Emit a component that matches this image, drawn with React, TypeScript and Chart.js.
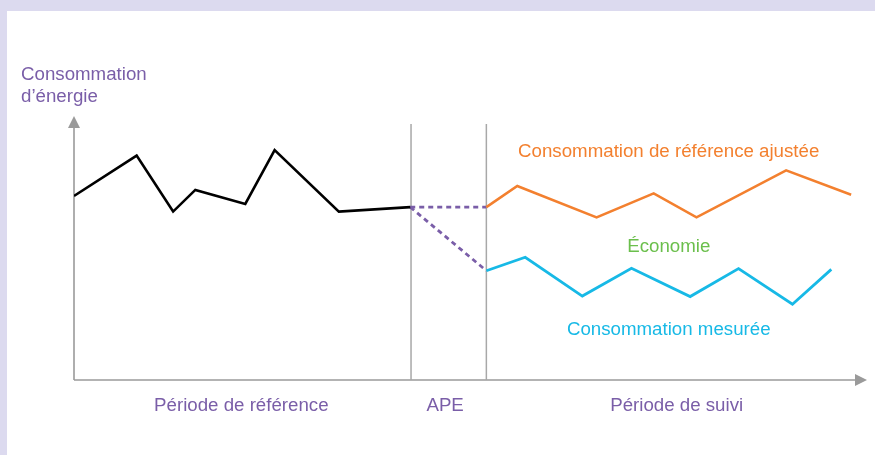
import React, { useEffect, useRef } from "react";
import { Chart, registerables } from "chart.js";

Chart.register(...registerables);

// Data (arbitrary units: time 0–100, energy 0–100)
const baselineX = [0, 7.9, 12.5, 15.3, 21.6, 25.3, 33.4, 42.4];
const baselineY = [69.7, 85.0, 63.8, 72.0, 66.7, 87.1, 63.8, 65.5];
const adjustedX = [52, 55.9, 65.9, 73.1, 78.5, 89.8, 98.0];
const adjustedY = [65.5, 73.5, 61.6, 70.7, 61.6, 79.4, 70.2];
const measuredX = [52, 56.9, 64.1, 70.3, 77.7, 83.8, 90.6, 95.5];
const measuredY = [41.4, 46.5, 31.8, 42.3, 31.6, 42.2, 28.7, 41.9];
const dividerX = [42.5, 52.0];
const dividerTop = 97;
const periodLabels = ["Période de référence", "APE", "Période de suivi"];
const periodCenters = [21.1, 46.8, 76.0];
const yTitle = ["Consommation", "d’énergie"];
const adjustedLabel = "Consommation de référence ajustée";
const savingsLabel = "Économie";
const measuredLabel = "Consommation mesurée";

const PURPLE = "#7a5ea8";
const ORANGE = "#f3802f";
const GREEN = "#6bbf4c";
const CYAN = "#17b9e6";
const GRAY = "#9a9a9a";
const FONT = '18.7px "Liberation Sans", Arial, Helvetica, sans-serif';

const pts = (xs: number[], ys: number[]) => xs.map((x, i) => ({ x, y: ys[i] }));

const decorPlugin = {
  id: "decor",
  beforeDatasetsDraw(chart: any) {
    const { ctx, chartArea } = chart;
    const { left, right, top, bottom } = chartArea;
    ctx.save();
    ctx.strokeStyle = GRAY;
    ctx.fillStyle = GRAY;
    ctx.lineWidth = 1.6;
    // y axis
    ctx.beginPath();
    ctx.moveTo(left, bottom);
    ctx.lineTo(left, top + 10);
    ctx.stroke();
    ctx.beginPath();
    ctx.moveTo(left, top);
    ctx.lineTo(left - 6, top + 12);
    ctx.lineTo(left + 6, top + 12);
    ctx.closePath();
    ctx.fill();
    // x axis
    ctx.beginPath();
    ctx.moveTo(left, bottom);
    ctx.lineTo(right - 10, bottom);
    ctx.stroke();
    ctx.beginPath();
    ctx.moveTo(right, bottom);
    ctx.lineTo(right - 12, bottom - 6);
    ctx.lineTo(right - 12, bottom + 6);
    ctx.closePath();
    ctx.fill();
    ctx.restore();
  },
  afterDraw(chart: any) {
    const { ctx, chartArea, scales } = chart;
    const xs = scales.x;
    const ys = scales.y;
    ctx.save();
    ctx.font = FONT;
    ctx.textBaseline = "alphabetic";
    // y title
    ctx.fillStyle = PURPLE;
    ctx.textAlign = "left";
    ctx.fillText(yTitle[0], 21, 80);
    ctx.fillText(yTitle[1], 21, 102);
    // period labels
    ctx.textAlign = "center";
    periodLabels.forEach((t, i) => {
      ctx.fillText(t, xs.getPixelForValue(periodCenters[i]), chartArea.bottom + 31);
    });
    // series labels
    ctx.fillStyle = ORANGE;
    ctx.textAlign = "left";
    ctx.fillText(adjustedLabel, xs.getPixelForValue(56.0), ys.getPixelForValue(84.5));
    ctx.textAlign = "center";
    ctx.fillStyle = GREEN;
    ctx.fillText(savingsLabel, xs.getPixelForValue(75.0), ys.getPixelForValue(48.5));
    ctx.fillStyle = CYAN;
    ctx.fillText(measuredLabel, xs.getPixelForValue(75.0), ys.getPixelForValue(17.0));
    ctx.restore();
  },
};

export default function App() {
  const ref = useRef<HTMLCanvasElement | null>(null);
  useEffect(() => {
    if (!ref.current) return;
    const last = baselineX.length - 1;
    const lineBase = {
      pointRadius: 0,
      pointHoverRadius: 0,
      fill: false,
      tension: 0,
      borderJoinStyle: "miter" as const,
    };
    const chart = new Chart(ref.current, {
      type: "line",
      data: {
        datasets: [
          {
            ...lineBase,
            label: "Référence",
            data: pts(baselineX, baselineY),
            borderColor: "#000000",
            borderWidth: 2.6,
          },
          {
            ...lineBase,
            label: adjustedLabel,
            data: pts(adjustedX, adjustedY),
            borderColor: ORANGE,
            borderWidth: 2.6,
          },
          {
            ...lineBase,
            label: measuredLabel,
            data: pts(measuredX, measuredY),
            borderColor: CYAN,
            borderWidth: 2.8,
          },
          {
            ...lineBase,
            label: "proj1",
            data: [
              { x: baselineX[last], y: baselineY[last] },
              { x: adjustedX[0], y: adjustedY[0] },
            ],
            borderColor: PURPLE,
            borderWidth: 2.8,
            borderDash: [5, 4],
          },
          {
            ...lineBase,
            label: "proj2",
            data: [
              { x: baselineX[last], y: baselineY[last] },
              { x: measuredX[0], y: measuredY[0] },
            ],
            borderColor: PURPLE,
            borderWidth: 2.8,
            borderDash: [5, 4],
          },
          ...dividerX.map((dx, i) => ({
            ...lineBase,
            label: "div" + i,
            data: [
              { x: dx, y: 0 },
              { x: dx, y: dividerTop },
            ],
            borderColor: "#a8a8a8",
            borderWidth: 1.5,
          })),
        ],
      },
      options: {
        animation: false,
        responsive: false,
        maintainAspectRatio: false,
        layout: { padding: { left: 74, right: 8, top: 116, bottom: 75 } },
        plugins: {
          legend: { display: false },
          tooltip: { enabled: false },
          title: { display: false },
        },
        scales: {
          x: { type: "linear", min: 0, max: 100, display: false },
          y: { type: "linear", min: 0, max: 100, display: false },
        },
        events: [],
      },
      plugins: [decorPlugin],
    });
    return () => chart.destroy();
  }, []);

  return (
    <div
      style={{
        position: "fixed",
        left: 0,
        top: 0,
        width: 875,
        height: 455,
        background: "#dcdaef",
        overflow: "hidden",
      }}
    >
      <div
        style={{
          position: "absolute",
          left: 7,
          top: 11,
          right: 0,
          bottom: 0,
          background: "#ffffff",
        }}
      />
      <canvas
        ref={ref}
        width={875}
        height={455}
        style={{ position: "absolute", left: 0, top: 0, width: 875, height: 455 }}
      />
    </div>
  );
}
